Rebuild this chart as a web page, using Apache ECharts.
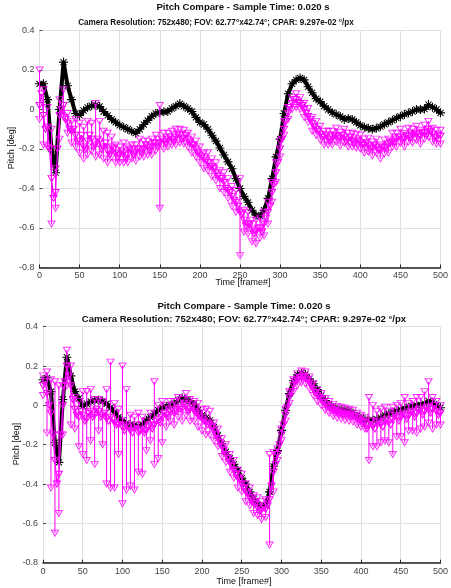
<!DOCTYPE html>
<html>
<head>
<meta charset="utf-8">
<script src="https://cdn.jsdelivr.net/npm/echarts@6/dist/echarts.min.js"></script>
<style>
html, body { margin: 0; padding: 0; background: #fff; }
#chart { width: 451px; height: 588px; }
</style>
</head>
<body>
<div id="chart"></div>
<script>
// Main samples every FRAME_STEP frames from frame 0; camera "mid" samples sit halfway between.
const FRAME_STEP = 5;

const titleLine1 = 'Pitch Compare - Sample Time: 0.020 s';
const titleLine2 = 'Camera Resolution: 752x480; FOV: 62.77°x42.74°; CPAR: 9.297e-02 °/px';
const xTitle = 'Time [frame#]';
const yTitle = 'Pitch [deg]';

// ---- upper panel ----
const refTop = [
  0.13, 0.13, 0.05, -0.2, -0.32, 0.0, 0.24, 0.12, 0.05, -0.02,
  -0.03, -0.005, 0.01, 0.02, 0.022, 0.015, -0.01, -0.03, -0.05, -0.065,
  -0.08, -0.09, -0.1, -0.11, -0.12, -0.1, -0.076, -0.055, -0.034, -0.02,
  -0.014, -0.012, -0.01, 0.005, 0.017, 0.03, 0.017, 0.005, -0.01, -0.04,
  -0.065, -0.076, -0.1, -0.13, -0.16, -0.195, -0.23, -0.265, -0.3, -0.35,
  -0.4, -0.44, -0.47, -0.51, -0.535, -0.54, -0.51, -0.45, -0.35, -0.24,
  -0.15, -0.02, 0.08, 0.13, 0.15, 0.16, 0.15, 0.115, 0.085, 0.055,
  0.04, 0.017, 0.0, -0.015, -0.025, -0.035, -0.05, -0.045, -0.05, -0.065,
  -0.08, -0.09, -0.095, -0.1, -0.095, -0.087, -0.075, -0.065, -0.055, -0.044,
  -0.035, -0.025, -0.018, -0.01, 0.0, 0.0, 0.002, 0.025, 0.012, 0.0,
  -0.017
];
const camTop = [
  0.02, -0.03, -0.09, -0.35, -0.42, -0.03, 0.02, -0.07, -0.11, -0.13,
  -0.16, -0.19, -0.16, -0.15, -0.18, -0.16, -0.19, -0.21, -0.19, -0.22,
  -0.23, -0.22, -0.23, -0.21, -0.22, -0.2, -0.2, -0.19, -0.19, -0.17,
  -0.17, -0.16, -0.15, -0.15, -0.14, -0.13, -0.145, -0.15, -0.18, -0.2,
  -0.23, -0.25, -0.27, -0.29, -0.32, -0.35, -0.37, -0.41, -0.44, -0.47,
  -0.52, -0.56, -0.58, -0.61, -0.62, -0.6, -0.58, -0.52, -0.42, -0.32,
  -0.2, -0.1, -0.02, 0.03, 0.05, 0.03, 0.0, -0.035, -0.07, -0.1,
  -0.125, -0.14, -0.15, -0.14, -0.135, -0.145, -0.14, -0.15, -0.16, -0.155,
  -0.17, -0.18, -0.185, -0.195, -0.19, -0.21, -0.195, -0.18, -0.16, -0.15,
  -0.14, -0.15, -0.135, -0.13, -0.125, -0.135, -0.12, -0.1, -0.125, -0.145,
  -0.135
];
const camTopMid = [
  0.08, -0.1, -0.2, -0.45, -0.2, 0.0, -0.05, -0.1, -0.1, -0.16,
  -0.13, -0.2, -0.13, -0.19, -0.15, -0.2, -0.17, -0.23, -0.2, -0.24,
  -0.21, -0.25, -0.2, -0.23, -0.2, -0.22, -0.18, -0.21, -0.17, -0.19,
  -0.15, -0.17, -0.14, -0.16, -0.125, -0.15, -0.13, -0.17, -0.18, -0.22,
  -0.24, -0.26, -0.29, -0.3, -0.34, -0.35, -0.4, -0.42, -0.46, -0.49,
  -0.53, -0.59, -0.58, -0.63, -0.6, -0.62, -0.55, -0.49, -0.38, -0.27,
  -0.15, -0.06, 0.01, 0.05, 0.035, 0.02, -0.02, -0.05, -0.09, -0.11,
  -0.14, -0.13, -0.16, -0.13, -0.15, -0.13, -0.16, -0.14, -0.17, -0.16,
  -0.18, -0.17, -0.2, -0.18, -0.205, -0.19, -0.19, -0.17, -0.165, -0.14,
  -0.155, -0.13, -0.145, -0.12, -0.14, -0.115, -0.13, -0.11, -0.14, -0.13
];
const camTopErrUp = [
  0.18, 0.13, 0.1, 0.25, 0.12, 0.08, 0.08, 0.05, 0.05, 0.08,
  0.09, 0.1, 0.1, 0.08, 0.21, 0.1, 0.08, 0.09, 0.05, 0.04,
  0.04, 0.05, 0.04, 0.03, 0.04, 0.05, 0.04, 0.03, 0.04, 0.04,
  0.19, 0.04, 0.03, 0.04, 0.04, 0.03, 0.04, 0.03, 0.04, 0.04,
  0.04, 0.03, 0.05, 0.04, 0.05, 0.04, 0.05, 0.06, 0.05, 0.06,
  0.17, 0.05, 0.06, 0.05, 0.06, 0.05, 0.06, 0.05, 0.05, 0.05,
  0.04, 0.04, 0.03, 0.03, 0.03, 0.03, 0.03, 0.04, 0.03, 0.04,
  0.04, 0.03, 0.04, 0.03, 0.04, 0.03, 0.04, 0.03, 0.04, 0.03,
  0.04, 0.03, 0.04, 0.03, 0.04, 0.03, 0.04, 0.03, 0.04, 0.03,
  0.04, 0.03, 0.04, 0.03, 0.04, 0.03, 0.04, 0.04, 0.03, 0.04,
  0.03
];
const camTopErrDown = [
  0.07, 0.15, 0.1, 0.23, 0.08, 0.12, 0.06, 0.05, 0.06, 0.06,
  0.06, 0.06, 0.07, 0.06, 0.06, 0.07, 0.06, 0.06, 0.05, 0.05,
  0.04, 0.05, 0.04, 0.04, 0.04, 0.04, 0.04, 0.04, 0.04, 0.04,
  0.33, 0.04, 0.04, 0.03, 0.04, 0.04, 0.03, 0.04, 0.04, 0.04,
  0.04, 0.05, 0.04, 0.05, 0.04, 0.05, 0.05, 0.04, 0.05, 0.05,
  0.22, 0.06, 0.05, 0.06, 0.06, 0.05, 0.06, 0.06, 0.05, 0.05,
  0.04, 0.03, 0.03, 0.03, 0.04, 0.03, 0.04, 0.03, 0.04, 0.03,
  0.03, 0.04, 0.03, 0.04, 0.03, 0.04, 0.03, 0.04, 0.03, 0.04,
  0.03, 0.04, 0.03, 0.04, 0.03, 0.04, 0.03, 0.04, 0.03, 0.04,
  0.03, 0.04, 0.03, 0.04, 0.03, 0.04, 0.03, 0.04, 0.04, 0.03,
  0.04
];

// ---- lower panel ----
const refBottom = [
  0.13, 0.14, 0.07, -0.19, -0.29, 0.03, 0.245, 0.15, 0.07, 0.035,
  -0.005, 0.008, 0.02, 0.025, 0.027, 0.02, 0.008, -0.012, -0.034, -0.06,
  -0.076, -0.09, -0.098, -0.1, -0.107, -0.097, -0.076, -0.06, -0.042, -0.025,
  -0.012, -0.005, 0.0, 0.008, 0.025, 0.037, 0.03, 0.022, 0.005, -0.025,
  -0.05, -0.063, -0.076, -0.11, -0.153, -0.195, -0.237, -0.27, -0.3, -0.33,
  -0.37, -0.4, -0.44, -0.475, -0.505, -0.515, -0.51, -0.44, -0.31, -0.23,
  -0.127, -0.025, 0.06, 0.125, 0.155, 0.165, 0.157, 0.135, 0.11, 0.08,
  0.05, 0.025, 0.005, -0.01, -0.02, -0.022, -0.025, -0.03, -0.04, -0.055,
  -0.065, -0.073, -0.076, -0.076, -0.07, -0.062, -0.05, -0.042, -0.035, -0.028,
  -0.022, -0.015, -0.008, -0.004, 0.0, 0.004, 0.008, 0.022, 0.015, 0.0,
  -0.012
];
const camBottom = [
  0.1, 0.06, -0.04, -0.28, -0.35, 0.0, 0.2, 0.1, -0.02, -0.06,
  -0.05, -0.07, -0.03, -0.05, -0.03, -0.05, -0.07, -0.06, -0.09, -0.1,
  -0.11, -0.1, -0.13, -0.12, -0.14, -0.12, -0.13, -0.1, -0.1, -0.07,
  -0.06, -0.05, -0.03, -0.04, -0.01, -0.02, 0.0, -0.02, -0.03, -0.05,
  -0.07, -0.09, -0.1, -0.13, -0.17, -0.21, -0.25, -0.29, -0.33, -0.37,
  -0.4, -0.44, -0.47, -0.5, -0.52, -0.53, -0.53, -0.48, -0.34, -0.25,
  -0.15, -0.05, 0.04, 0.1, 0.13, 0.145, 0.14, 0.115, 0.08, 0.05,
  0.03, 0.005, -0.01, -0.025, -0.035, -0.04, -0.045, -0.05, -0.055, -0.07,
  -0.08, -0.09, -0.1, -0.11, -0.09, -0.1, -0.08, -0.09, -0.07, -0.06,
  -0.06, -0.05, -0.05, -0.03, -0.04, -0.02, -0.03, -0.01, -0.02, -0.03,
  -0.04
];
const camBottomMid = [
  0.12, 0.0, -0.15, -0.4, -0.15, 0.12, 0.15, 0.03, -0.05, -0.03,
  -0.08, -0.04, -0.06, -0.02, -0.06, -0.04, -0.08, -0.07, -0.1, -0.08,
  -0.13, -0.11, -0.14, -0.1, -0.13, -0.14, -0.11, -0.12, -0.08, -0.09,
  -0.04, -0.06, -0.02, -0.03, -0.02, 0.01, -0.03, -0.01, -0.04, -0.06,
  -0.08, -0.1, -0.11, -0.15, -0.19, -0.23, -0.27, -0.31, -0.35, -0.38,
  -0.42, -0.45, -0.49, -0.5, -0.54, -0.52, -0.51, -0.41, -0.3, -0.2,
  -0.1, -0.01, 0.07, 0.12, 0.14, 0.145, 0.13, 0.1, 0.065, 0.04,
  0.015, -0.005, -0.02, -0.03, -0.04, -0.045, -0.045, -0.055, -0.06, -0.075,
  -0.085, -0.12, -0.08, -0.12, -0.08, -0.11, -0.07, -0.1, -0.05, -0.08,
  -0.04, -0.07, -0.03, -0.06, -0.02, -0.05, -0.01, -0.04, 0.0, -0.05
];
const camBottomErrUp = [
  0.05, 0.11, 0.17, 0.4, 0.45, 0.1, 0.08, 0.1, 0.06, 0.08,
  0.12, 0.14, 0.11, 0.08, 0.06, 0.07, 0.15, 0.28, 0.1, 0.08,
  0.31, 0.18, 0.08, 0.06, 0.1, 0.06, 0.05, 0.06, 0.22, 0.07,
  0.08, 0.05, 0.05, 0.06, 0.05, 0.05, 0.06, 0.05, 0.05, 0.06,
  0.05, 0.07, 0.07, 0.04, 0.05, 0.04, 0.05, 0.04, 0.05, 0.04,
  0.05, 0.04, 0.05, 0.04, 0.05, 0.04, 0.05, 0.23, 0.1, 0.03,
  0.03, 0.03, 0.03, 0.03, 0.03, 0.03, 0.03, 0.03, 0.03, 0.03,
  0.03, 0.03, 0.03, 0.03, 0.03, 0.03, 0.03, 0.03, 0.03, 0.03,
  0.03, 0.03, 0.14, 0.11, 0.06, 0.08, 0.07, 0.06, 0.06, 0.06,
  0.07, 0.09, 0.06, 0.05, 0.08, 0.06, 0.1, 0.13, 0.06, 0.05,
  0.04
];
const camBottomErrDown = [
  0.05, 0.2, 0.38, 0.37, 0.2, 0.15, 0.1, 0.2, 0.1, 0.15,
  0.2, 0.21, 0.15, 0.25, 0.1, 0.15, 0.33, 0.36, 0.33, 0.15,
  0.39, 0.33, 0.28, 0.31, 0.2, 0.23, 0.1, 0.08, 0.2, 0.2,
  0.13, 0.06, 0.05, 0.06, 0.05, 0.06, 0.05, 0.06, 0.05, 0.06,
  0.06, 0.06, 0.05, 0.05, 0.04, 0.05, 0.04, 0.05, 0.04, 0.05,
  0.04, 0.05, 0.04, 0.05, 0.04, 0.05, 0.04, 0.23, 0.1, 0.03,
  0.03, 0.03, 0.03, 0.03, 0.03, 0.03, 0.03, 0.03, 0.03, 0.03,
  0.03, 0.03, 0.03, 0.03, 0.03, 0.03, 0.03, 0.03, 0.03, 0.03,
  0.03, 0.03, 0.18, 0.1, 0.12, 0.09, 0.1, 0.1, 0.18, 0.1,
  0.1, 0.14, 0.08, 0.1, 0.1, 0.1, 0.08, 0.08, 0.1, 0.07,
  0.06
];

const MAGENTA = '#ff00ff';
const ASTERISK = 'path://M4.4,0L5.6,0L5.6,10L4.4,10ZM0,4.4L10,4.4L10,5.6L0,5.6ZM1.2,2L2,1.2L8.8,8L8,8.8ZM8,1.2L8.8,2L2,8.8L1.2,8Z';
const FONT = 'Liberation Sans, Arial, sans-serif';

function toPoints(vals) {
  return vals.map((v, i) => [i * FRAME_STEP, v]);
}
// main samples and halfway samples merged in frame order
function mergedPoints(vals, mids) {
  const pts = [];
  vals.forEach((v, i) => {
    pts.push([i * FRAME_STEP, v]);
    if (i < mids.length) pts.push([i * FRAME_STEP + FRAME_STEP / 2, mids[i]]);
  });
  return pts;
}
function errorRanges(vals, up, down) {
  return vals.map((v, i) => [i * FRAME_STEP, v - down[i], v + up[i]]);
}
function errorEnds(vals, up, down) {
  const pts = [];
  vals.forEach((v, i) => {
    pts.push([i * FRAME_STEP, v + up[i]]);
    pts.push([i * FRAME_STEP, v - down[i]]);
  });
  return pts;
}

const hollowTri = {
  symbol: 'triangle',
  symbolRotate: 180,
  symbolSize: [7, 6],
  itemStyle: { color: 'rgba(255,255,255,0)', borderColor: MAGENTA, borderWidth: 1 }
};

function panelSeries(idx, ref, cam, camMid, up, down) {
  return [
    {
      type: 'line', xAxisIndex: idx, yAxisIndex: idx,
      data: toPoints(ref),
      symbol: ASTERISK, symbolSize: 9,
      itemStyle: { color: '#000' },
      lineStyle: { color: '#000', width: 4 },
      z: 2
    },
    {
      type: 'custom', xAxisIndex: idx, yAxisIndex: idx,
      data: errorRanges(cam, up, down),
      encode: { x: 0, y: [1, 2] },
      clip: true,
      renderItem: (params, api) => {
        const x = api.value(0);
        const a = api.coord([x, api.value(1)]);
        const b = api.coord([x, api.value(2)]);
        return {
          type: 'line',
          shape: { x1: a[0], y1: a[1], x2: b[0], y2: b[1] },
          style: { stroke: MAGENTA, lineWidth: 1 }
        };
      },
      z: 3
    },
    Object.assign({
      type: 'scatter', xAxisIndex: idx, yAxisIndex: idx,
      data: errorEnds(cam, up, down),
      z: 4
    }, hollowTri),
    Object.assign({
      type: 'line', xAxisIndex: idx, yAxisIndex: idx,
      data: mergedPoints(cam, camMid),
      lineStyle: { color: MAGENTA, width: 1.2 },
      z: 5
    }, hollowTri)
  ];
}

function xAxisOf(gridIndex) {
  return {
    type: 'value', gridIndex, min: 0, max: 500, interval: 50,
    axisLine: { show: true, onZero: false, lineStyle: { color: '#222', width: 1.5 } },
    axisTick: { show: true, inside: true, length: 3, lineStyle: { color: '#222' } },
    axisLabel: { color: '#444', fontSize: 9, fontFamily: FONT, margin: 4 },
    splitLine: { show: true, lineStyle: { color: '#e0e0e0', width: 1 } }
  };
}
function yAxisOf(gridIndex) {
  return {
    type: 'value', gridIndex, min: -0.8, max: 0.4, interval: 0.2,
    axisLine: { show: false },
    axisTick: { show: true, inside: true, length: 3, lineStyle: { color: '#444' } },
    axisLabel: { color: '#444', fontSize: 9, fontFamily: FONT, margin: 5 },
    splitLine: { show: true, lineStyle: { color: '#e0e0e0', width: 1 } }
  };
}

function textEl(x, y, text, opts) {
  return Object.assign({
    type: 'text', x, y,
    style: Object.assign({
      text, fill: '#111', font: '9px ' + FONT,
      textAlign: 'center', textVerticalAlign: 'middle'
    }, opts && opts.style)
  }, opts && opts.el);
}

const TITLE_FONT = 'bold 9.6px ' + FONT;

const chart = echarts.init(document.getElementById('chart'), null, { renderer: 'canvas' });
chart.setOption({
  animation: false,
  backgroundColor: '#fff',
  grid: [
    { left: 39.5, top: 30.5, width: 402, height: 237 },
    { left: 43, top: 326.7, width: 402, height: 236 }
  ],
  xAxis: [xAxisOf(0), xAxisOf(1)],
  yAxis: [yAxisOf(0), yAxisOf(1)],
  series: [
    ...panelSeries(0, refTop, camTop, camTopMid, camTopErrUp, camTopErrDown),
    ...panelSeries(1, refBottom, camBottom, camBottomMid, camBottomErrUp, camBottomErrDown)
  ],
  graphic: [
    textEl(243, 7.5, titleLine1, { style: { font: TITLE_FONT } }),
    textEl(216, 22, titleLine2, { style: { font: TITLE_FONT }, el: { scaleX: 0.85 } }),
    textEl(243, 283, xTitle),
    textEl(12, 148, yTitle, { el: { rotation: Math.PI / 2 } }),
    textEl(244, 306, titleLine1, { style: { font: TITLE_FONT } }),
    textEl(244, 319, titleLine2, { style: { font: TITLE_FONT } }),
    textEl(244, 582, xTitle),
    textEl(17, 444, yTitle, { el: { rotation: Math.PI / 2 } })
  ]
});
</script>
</body>
</html>
